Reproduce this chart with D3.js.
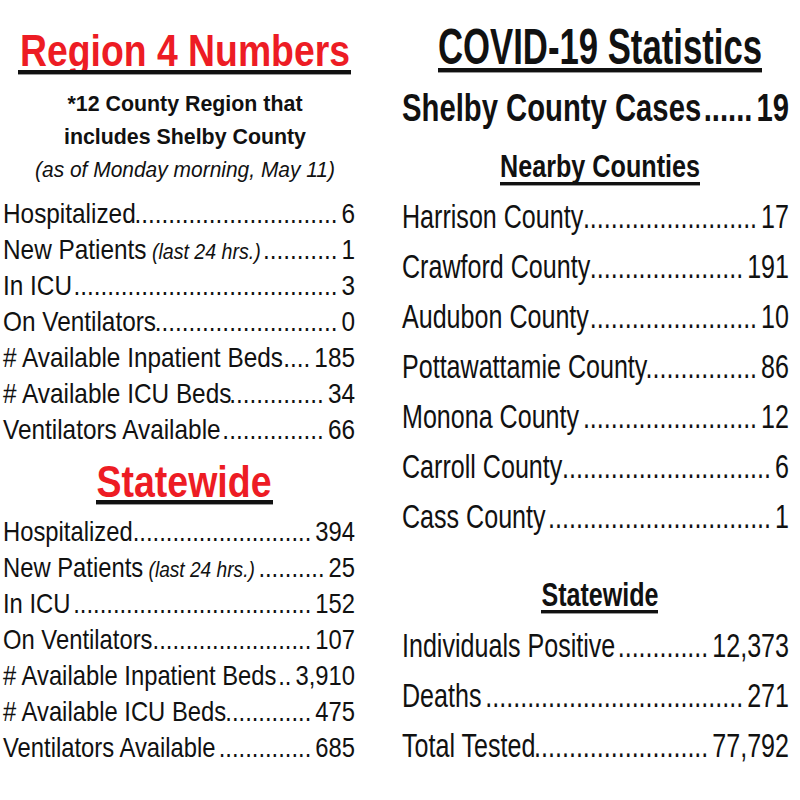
<!DOCTYPE html>
<meta charset="utf-8">
<style>
  body { margin: 0; background: #fff; }
  svg { display: block; }
</style>
<body>
<script src="https://d3js.org/d3.v7.min.js"></script>
<script>

  // ---- data ----
  var regionLabels = ["Hospitalized", "New Patients", "In ICU", "On Ventilators",
    "# Available Inpatient Beds", "# Available ICU Beds", "Ventilators Available"];
  var regionValues = ["6", "1", "3", "0", "185", "34", "66"];
  var stateLabels = regionLabels;
  var stateValues = ["394", "25", "152", "107", "3,910", "475", "685"];
  var noteFor = { "New Patients": "(last 24 hrs.)" };

  var shelbyCases = 19;
  var countyNames = ["Harrison County", "Crawford County", "Audubon County",
    "Pottawattamie County", "Monona County", "Carroll County", "Cass County"];
  var countyCases = [17, 191, 10, 86, 12, 6, 1];

  var statewideLabels = ["Individuals Positive", "Deaths", "Total Tested"];
  var statewideValues = [12373, 271, 77792];

  var FONT = "'Liberation Sans', Arial, Helvetica, sans-serif";
  var RED = "#ed1c24";
  var fmt = d3.format(",");

  var svg = d3.select("body").append("svg")
    .attr("width", 800)
    .attr("height", 800);

  // write a text, then squeeze it to a width (the original uses a condensed face)
  function addText(x, y, parts, opt) {
    var t = svg.append("text")
      .attr("x", x).attr("y", y)
      .attr("font-family", FONT)
      .attr("font-size", opt.size)
      .attr("font-weight", opt.weight || "normal")
      .attr("fill", opt.fill || "#111");
    parts.forEach(function (p) {
      var ts = t.append("tspan").text(p.text);
      if (p.italic) ts.attr("font-style", "italic").attr("font-size", p.size);
    });
    var w = t.node().getComputedTextLength();
    var target = opt.width != null ? opt.width : w * opt.sx;
    var sx = x;
    if (opt.anchor === "middle") sx = x - target / 2;
    else if (opt.anchor === "end") sx = x - target;
    t.attr("x", sx)
      .attr("textLength", target)
      .attr("lengthAdjust", "spacingAndGlyphs");
    return target;
  }

  function dotWidth(size, weight) {
    var t = svg.append("text")
      .attr("font-family", FONT).attr("font-size", size)
      .attr("font-weight", weight || "normal")
      .text("..........");
    var w = t.node().getComputedTextLength() / 10;
    t.remove();
    return w;
  }

  // label ........ value
  function addRow(x0, x1, y, parts, value, opt) {
    var lw = addText(x0, y, parts, opt);
    var vw = addText(x1, y, [{ text: value }], { size: opt.size, sx: opt.sx, weight: opt.weight, anchor: "end" });
    var dw = dotWidth(opt.size, opt.weight) * opt.sx;
    var start = x0 + lw + 1, end = x1 - vw - 4;
    var n = Math.max(0, Math.round((end - start) / dw));
    if (n > 0) addText(end, y, [{ text: d3.range(n).map(function () { return "."; }).join("") }],
      { size: opt.size, weight: opt.weight, width: n * dw, anchor: "end" });
  }

  function underline(x0, x1, y, h) {
    svg.append("rect").attr("x", x0).attr("y", y).attr("width", x1 - x0).attr("height", h).attr("fill", "#111");
    svg.append("rect").attr("x", x0).attr("y", y + h).attr("width", x1 - x0).attr("height", 1).attr("fill", "#999");
  }

  // ---- left column ----
  addText(185, 66, [{ text: "Region 4 Numbers" }], { size: 45, weight: "bold", fill: RED, width: 330, anchor: "middle" });
  underline(18, 351, 70, 4);

  addText(185, 111, [{ text: "*12 County Region that" }], { size: 22, weight: "bold", width: 235, anchor: "middle" });
  addText(185, 144, [{ text: "includes Shelby County" }], { size: 22, weight: "bold", width: 242, anchor: "middle" });
  addText(185, 177, [{ text: "(as of Monday morning, May 11)", italic: true, size: 22 }], { size: 22, width: 300, anchor: "middle" });

  var yRegion = d3.scalePoint().domain(d3.range(regionLabels.length)).range([223, 439]);
  regionLabels.forEach(function (l, i) {
    var parts = [{ text: l }];
    if (noteFor[l]) parts.push({ text: " " + noteFor[l], italic: true, size: 22.5 });
    addRow(3, 355, yRegion(i), parts, regionValues[i], { size: 28, sx: 0.87 });
  });

  addText(184, 497, [{ text: "Statewide" }], { size: 45, weight: "bold", fill: RED, width: 175, anchor: "middle" });
  underline(96, 273, 500, 4);

  var yState = d3.scalePoint().domain(d3.range(stateLabels.length)).range([541, 757]);
  stateLabels.forEach(function (l, i) {
    var parts = [{ text: l }];
    if (noteFor[l]) parts.push({ text: " " + noteFor[l], italic: true, size: 22.5 });
    addRow(3, 355, yState(i), parts, stateValues[i], { size: 28, sx: 0.85 });
  });

  // ---- right column ----
  addText(600, 64, [{ text: "COVID-19 Statistics" }], { size: 50, weight: "bold", width: 324, anchor: "middle" });
  underline(438, 762, 68, 4);

  addRow(402, 789, 121, [{ text: "Shelby County Cases" }], String(shelbyCases), { size: 38, weight: "bold", sx: 0.77 });

  addText(600, 177, [{ text: "Nearby Counties" }], { size: 32, weight: "bold", width: 200, anchor: "middle" });
  underline(500, 700, 182, 3);

  var yCounty = d3.scalePoint().domain(countyNames).range([228, 528]);
  countyNames.forEach(function (c, i) {
    addRow(402, 789, yCounty(c), [{ text: c }], String(countyCases[i]), { size: 33, sx: 0.76 });
  });

  addText(600, 606, [{ text: "Statewide" }], { size: 33, weight: "bold", width: 117, anchor: "middle" });
  underline(541, 658, 610, 3);

  var ySw = d3.scalePoint().domain(statewideLabels).range([657, 757]);
  statewideLabels.forEach(function (l, i) {
    addRow(402, 789, ySw(l), [{ text: l }], fmt(statewideValues[i]), { size: 33, sx: 0.76 });
  });
</script>
</body>
